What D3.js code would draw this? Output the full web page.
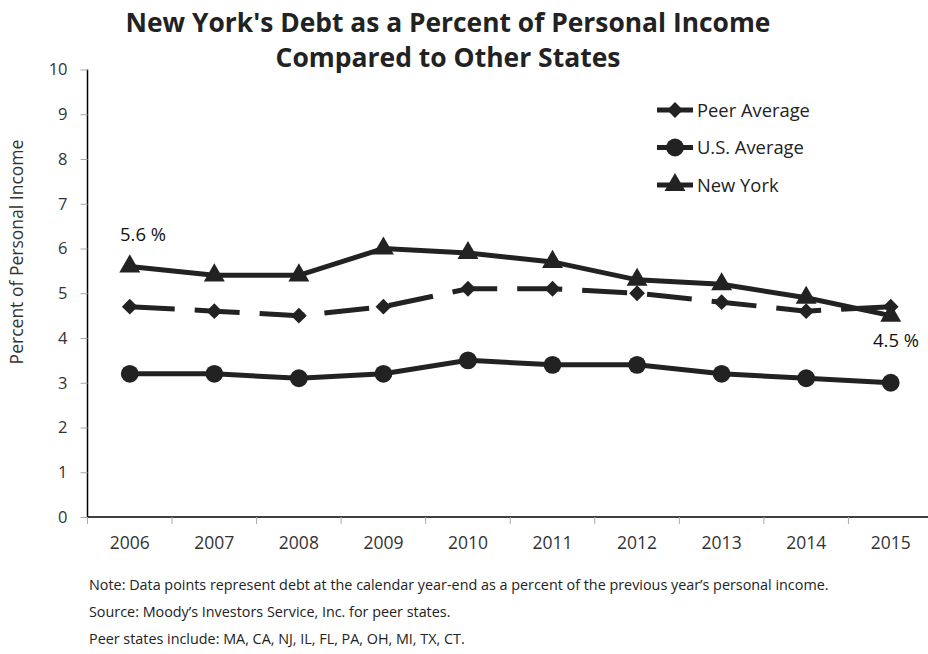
<!DOCTYPE html>
<html><head><meta charset="utf-8">
<script src="https://cdn.jsdelivr.net/npm/d3@7"></script>
<style>body{margin:0;background:#fff}svg{display:block}text{font-family:"Open Sans",sans-serif}</style>
</head><body>
<svg id="c" width="928" height="654"></svg>
<script>
const years = ["2006","2007","2008","2009","2010","2011","2012","2013","2014","2015"];
const peerAverage = [4.7,4.6,4.5,4.7,5.1,5.1,5.0,4.8,4.6,4.7];
const usAverage = [3.2,3.2,3.1,3.2,3.5,3.4,3.4,3.2,3.1,3.0];
const newYork = [5.6,5.4,5.4,6.0,5.9,5.7,5.3,5.2,4.9,4.5];
const yTicks = [0,1,2,3,4,5,6,7,8,9,10];
const seriesNames = ["Peer Average","U.S. Average","New York"];
const notes = ["Note: Data points represent debt at the calendar year-end as a percent of the previous year\u2019s personal income.",
 "Source: Moody\u2019s Investors Service, Inc. for peer states.",
 "Peer states include: MA, CA, NJ, IL, FL, PA, OH, MI, TX, CT."];

const svg = d3.select("#c");
const ink = "#222";
const x = d3.scaleBand().domain(years).range([87.5, 933]);
const cx = d => x(d) + x.bandwidth()/2;
const y = d3.scaleLinear().domain([0,10]).range([517, 69.5]);

// scale font so text spans target width
function fit(sel, w){
  const n = sel.node(); const fs = parseFloat(sel.attr("font-size"));
  const L = n.getComputedTextLength(); if (L>0) sel.attr("font-size", fs*w/L);
  return sel;
}

// Title
fit(svg.append("text").attr("x",448).attr("y",32).attr("text-anchor","middle")
  .attr("font-size",26).attr("font-weight","bold").attr("fill",ink)
  .text("New York's Debt as a Percent of Personal Income"), 645);
fit(svg.append("text").attr("x",448).attr("y",67).attr("text-anchor","middle")
  .attr("font-size",26).attr("font-weight","bold").attr("fill",ink)
  .text("Compared to Other States"), 345);

// Y axis
const yAx = svg.append("g").attr("transform","translate(87.5,0)")
  .call(d3.axisLeft(y).tickValues(yTicks).tickSize(7).tickPadding(13).tickFormat(d3.format("d")));
yAx.select(".domain").attr("stroke","#000").attr("stroke-width",1.5).attr("d","M0,517V69.5");
yAx.selectAll(".tick line").attr("stroke","#aaa");
yAx.selectAll(".tick text").attr("font-size",16.5).attr("fill","#333").style("font-family","'Open Sans',sans-serif");

// X axis
const xAx = svg.append("g").attr("transform","translate(0,517)")
  .call(d3.axisBottom(x).tickSize(0).tickPadding(20));
xAx.select(".domain").attr("stroke","#000").attr("stroke-width",1.5).attr("d","M87.5,0H928");
xAx.selectAll(".tick text").attr("font-size",17.5).attr("fill","#333").style("font-family","'Open Sans',sans-serif");
xAx.selectAll(".sep").data(years).join("line").attr("class","sep")
  .attr("x1",d=>x(d)).attr("x2",d=>x(d)).attr("y1",0).attr("y2",7).attr("stroke","#aaa");

// Y title
fit(svg.append("text").attr("transform","translate(23,252) rotate(-90)").attr("text-anchor","middle")
  .attr("font-size",16).attr("fill","#333").text("Percent of Personal Income"), 225);

const line = d3.line().x((d,i)=>cx(years[i])).y(d=>y(d));
const diamond = d3.symbol().type(d3.symbolSquare).size(125);
const circle = d3.symbol().type(d3.symbolCircle).size(250);
const tri = d3.symbol().type(d3.symbolTriangle).size(190);
const rot = [45,0,0];

function series(vals, dash, sym, r){
  svg.append("path").datum(vals).attr("d",line).attr("fill","none").attr("stroke",ink)
    .attr("stroke-width",5).attr("stroke-dasharray",dash||null);
  svg.append("g").selectAll("path").data(vals).join("path")
    .attr("transform",(d,i)=>`translate(${cx(years[i])},${y(d)}) rotate(${r})`)
    .attr("d",sym()).attr("fill",ink);
}
series(usAverage,null,circle,0);
series(peerAverage,"45,20",diamond,45);
series(newYork,null,tri,0);

// Data labels
fit(svg.append("text").attr("x",120).attr("y",241).attr("font-size",16).attr("fill","#111")
  .text(newYork[0].toFixed(1)+" %"), 46);
fit(svg.append("text").attr("x",873).attr("y",347).attr("font-size",16).attr("fill","#111")
  .text(newYork[9].toFixed(1)+" %"), 46);

// Legend
const syms = [diamond, circle, tri];
seriesNames.forEach((n,i)=>{
  const ly = 110 + i*37.5;
  svg.append("line").attr("x1",657).attr("x2",693).attr("y1",ly).attr("y2",ly).attr("stroke",ink).attr("stroke-width",5);
  svg.append("path").attr("transform",`translate(675,${ly}) rotate(${rot[i]})`).attr("d",syms[i]()).attr("fill",ink);
  const t = svg.append("text").attr("x",697).attr("y",ly+6.5).attr("font-size",17).attr("fill","#222").text(n);
  if (i===0) fit(t,113);
});
const lfs = svg.selectAll("text").filter(function(){return this.textContent==="Peer Average";}).attr("font-size");
svg.selectAll("text").filter(function(){return this.textContent==="U.S. Average"||this.textContent==="New York";}).attr("font-size",lfs);

// Notes
const noteEls = notes.map((t,i)=>svg.append("text").attr("x",89).attr("y",590+i*27).attr("font-size",12.5).attr("fill","#222").text(t));
fit(noteEls[0], 740);
const nfs = noteEls[0].attr("font-size");
noteEls.forEach(e=>e.attr("font-size",nfs));
</script>
</body></html>
